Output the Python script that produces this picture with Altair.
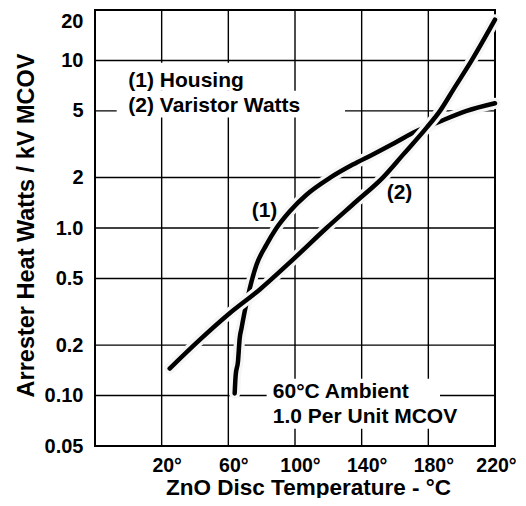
import altair as alt
import pandas as pd

FONT = "Liberation Sans"

# (1) Housing curve
housing_t = [63.8, 64.4, 65.8, 66.8, 67.9, 69.8, 72.9, 76.9, 82.9, 88.9, 96.9, 106.9,
             120.9, 134.7, 146.7, 160.0, 173.0, 182.8, 203.0, 220.0]
housing_w = [0.103, 0.132, 0.160, 0.219, 0.252, 0.317, 0.437, 0.603, 0.795, 1.0, 1.26, 1.58,
             1.99, 2.39, 2.75, 3.23, 3.79, 4.15, 5.0, 5.55]

# (2) Varistor Watts curve
varistor_t = [24.8, 42.8, 60.8, 78.9, 98.9, 118.9, 136.9, 152.7, 165.0, 179.0, 187.0,
              195.0, 206.0, 220.0]
varistor_w = [0.145, 0.215, 0.31, 0.43, 0.65, 1.0, 1.445, 2.0, 2.75, 3.97, 5.0,
              6.7, 10.0, 17.5]

# axes
x_domain = [-20, 220]
y_domain = [0.05, 20]
x_ticks = [20, 60, 100, 140, 180, 220]
y_ticks = [0.05, 0.1, 0.2, 0.5, 1, 2, 5, 10, 20]
y_labels = ["0.05", "0.10", "0.2", "0.5", "1.0", "2", "5", "10", "20"]

# annotations (data coordinates)
ann_text = ["(1) Housing", "(2) Varistor Watts", "(1)", "(2)", "60°C Ambient", "1.0 Per Unit MCOV"]
ann_t = [0.0, 0.0, 74.0, 155.0, 86.7, 86.7]
ann_w = [7.49, 5.38, 1.26, 1.62, 0.1057, 0.0748]

# white backgrounds behind annotation text
box_t0 = [-7.0, -7.0, 83.0]
box_t1 = [80.0, 130.0, 187.0]
box_w0 = [9.7, 6.6, 0.126]
box_w1 = [6.6, 4.56, 0.0634]

housing = pd.DataFrame({"t": housing_t, "w": housing_w})
varistor = pd.DataFrame({"t": varistor_t, "w": varistor_w})
ann = pd.DataFrame({"t": ann_t, "w": ann_w, "label": ann_text})
boxes = pd.DataFrame({"t": box_t0, "t2": box_t1, "w": box_w0, "w2": box_w1})

grid_rows = []
for t in x_ticks:
    for w in y_domain:
        grid_rows.append({"g": f"v{t}", "t": t, "w": w})
for w in y_ticks:
    for t in x_domain:
        grid_rows.append({"g": f"h{w}", "t": t, "w": w})
grid = pd.DataFrame(grid_rows)

y_expr = " : ".join(
    f"datum.value == {v} ? '{l}'" for v, l in zip(y_ticks, y_labels)
) + " : ''"

xscale = alt.Scale(domain=x_domain, nice=False, zero=False)
yscale = alt.Scale(type="log", domain=y_domain, nice=False)

xaxis = alt.Axis(
    values=x_ticks, labelExpr="datum.value + '°'", grid=False, domain=False,
    ticks=False, tickSize=0, labelFont=FONT,
    labelFontSize=19.5, labelFontWeight="bold", labelColor="black", labelPadding=25,
    labelBaseline="alphabetic",
    labelOffset=alt.condition("datum.value == 220", alt.value(1), alt.value(5)),
    labelFlush=False, labelOverlap=False,
    title="ZnO Disc Temperature - °C", titleFont=FONT, titleFontSize=22.5,
    titleFontWeight="bold", titleColor="black", titleX=213, titleY=48,
    titleAlign="center", titleBaseline="alphabetic",
)
yaxis = alt.Axis(
    values=y_ticks, labelExpr=y_expr, grid=False,
    domain=False, ticks=False, tickSize=0, labelFont=FONT, labelFontSize=20,
    labelFontWeight="bold", labelColor="black", labelPadding=12, labelAlign="right",
    labelBaseline="middle", labelFlush=False, labelOverlap=False,
    labelOffset=alt.condition("datum.value == 20", alt.value(11), alt.value(0)),
    title="Arrester Heat Watts / kV MCOV", titleFont=FONT, titleFontSize=23.5,
    titleFontWeight="bold", titleColor="black", titleX=-62, titleY=215,
    titleAlign="center", titleBaseline="alphabetic", titleAngle=270,
)

X = lambda f: alt.X(f"{f}:Q", scale=xscale, axis=xaxis)
Y = lambda f: alt.Y(f"{f}:Q", scale=yscale, axis=yaxis)

gridlines = alt.Chart(grid).mark_line(stroke="black", strokeWidth=1.4).encode(
    x=X("t"), y=Y("w"), detail="g:N"
)

rects = alt.Chart(boxes).mark_rect(color="white").encode(
    x=X("t"), x2="t2", y=Y("w"), y2="w2"
)

def curve(df):
    halo = alt.Chart(df).mark_line(stroke="#f6f6f6", strokeWidth=11, interpolate="monotone",
                                   strokeCap="round").encode(x=X("t"), y=Y("w"))
    line = alt.Chart(df).mark_line(stroke="black", strokeWidth=4.5, interpolate="monotone",
                                   strokeCap="round").encode(x=X("t"), y=Y("w"))
    return halo + line

texts = alt.Chart(ann).mark_text(
    align="left", baseline="middle", font=FONT, fontSize=21, fontWeight="bold", color="black"
).encode(x=X("t"), y=Y("w"), text="label:N")

chart = alt.layer(gridlines, rects, curve(housing), curve(varistor), texts).properties(
    width=400, height=436,
    padding={"left": 87, "top": 2, "right": 23, "bottom": 52},
    autosize=alt.AutoSizeParams(type="none"),
    background="white",
).configure_view(stroke="black", strokeWidth=2)

chart.save("out.html", embed_options={"renderer": "svg", "actions": False})
